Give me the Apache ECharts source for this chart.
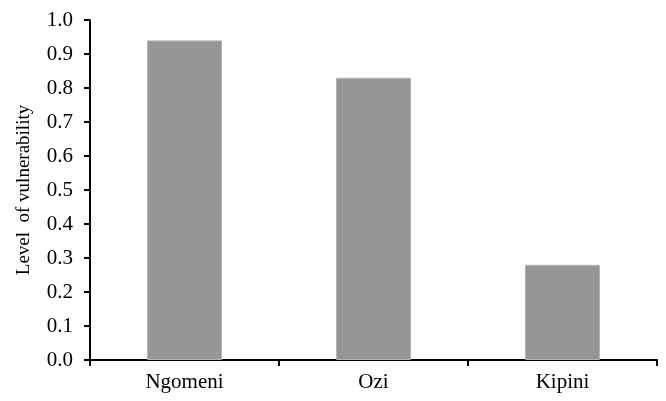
<!DOCTYPE html>
<html>
<head>
<meta charset="utf-8">
<script src="https://cdn.jsdelivr.net/npm/echarts@6/dist/echarts.min.js"></script>
<style>html,body{margin:0;padding:0;background:#fff;}#chart{width:666px;height:401px;}</style>
</head>
<body>
<div id="chart"></div>
<script>
const categories = ["Ngomeni", "Ozi", "Kipini"];
const vulnerability = [0.94, 0.83, 0.28];
const yTicks = { min: 0, max: 1, interval: 0.1 };

const chart = echarts.init(document.getElementById('chart'), null, { renderer: 'canvas' });
const font = '"Liberation Serif", "Times New Roman", serif';
chart.setOption({
  animation: false,
  backgroundColor: '#fff',
  grid: { left: 90, right: 9, top: 20, bottom: 41, containLabel: false },
  xAxis: {
    type: 'category',
    data: categories,
    axisLine: { lineStyle: { color: '#000', width: 2 } },
    axisTick: { show: true, length: 6, lineStyle: { color: '#000', width: 2 } },
    axisLabel: { color: '#000', fontFamily: font, fontSize: 21, margin: 12 }
  },
  yAxis: {
    type: 'value',
    min: yTicks.min, max: yTicks.max, interval: yTicks.interval,
    name: 'Level  of vulnerability',
    nameLocation: 'middle',
    nameGap: 56,
    nameRotate: 90,
    nameTextStyle: { color: '#000', fontFamily: font, fontSize: 19 },
    splitLine: { show: false },
    axisLine: { show: true, lineStyle: { color: '#000', width: 2 } },
    axisTick: { show: true, length: 6, lineStyle: { color: '#000', width: 2 } },
    axisLabel: { color: '#000', fontFamily: font, fontSize: 21, margin: 17,
      formatter: v => v.toFixed(1) }
  },
  series: [{
    type: 'bar',
    data: vulnerability,
    barWidth: 75,
    itemStyle: { color: '#969696', borderColor: '#b4b4b4', borderWidth: 1 }
  }]
});
</script>
</body>
</html>
